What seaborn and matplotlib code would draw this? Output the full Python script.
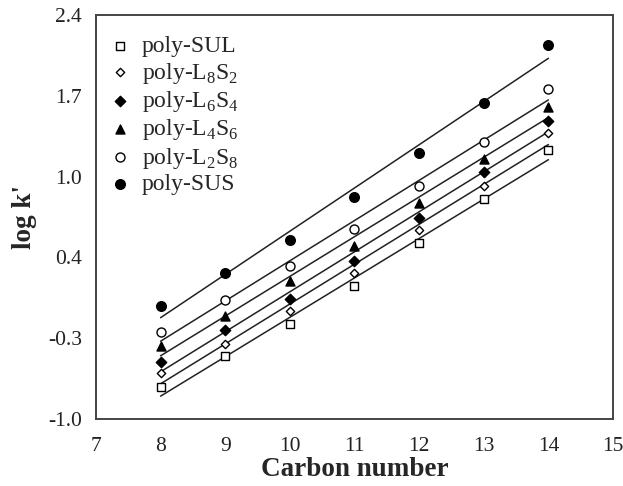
import numpy as np
import pandas as pd
import matplotlib
matplotlib.use("Agg")
import matplotlib.pyplot as plt
import seaborn as sns

# data
carbon = [8, 9, 10, 11, 12, 13, 14]
series_names = ["poly-SUL", "poly-L8S2", "poly-L6S4", "poly-L4S6", "poly-L2S8", "poly-SUS"]
legend_labels = [
    "poly-SUL",
    r"poly-L$_\mathregular{8}$S$_\mathregular{2}$",
    r"poly-L$_\mathregular{6}$S$_\mathregular{4}$",
    r"poly-L$_\mathregular{4}$S$_\mathregular{6}$",
    r"poly-L$_\mathregular{2}$S$_\mathregular{8}$",
    "poly-SUS",
]
sul = [-0.73, -0.47, -0.20, 0.12, 0.48, 0.85, 1.26]
l8s2 = [-0.61, -0.37, -0.09, 0.23, 0.59, 0.96, 1.41]
l6s4 = [-0.52, -0.25, 0.01, 0.33, 0.69, 1.08, 1.51]
l4s6 = [-0.39, -0.13, 0.16, 0.46, 0.82, 1.19, 1.63]
l2s8 = [-0.27, 0.00, 0.29, 0.60, 0.96, 1.33, 1.78]
sus = [-0.05, 0.23, 0.51, 0.87, 1.24, 1.66, 2.15]
values = [sul, l8s2, l6s4, l4s6, l2s8, sus]

y_ticks = np.linspace(-1.0, 2.4, 6)
x_ticks = list(range(7, 16))

# marker styles: (marker, size, facecolor)
styles = [
    ("s", 38, "white"),
    ("D", 18, "white"),
    ("D", 28, "black"),
    ("^", 42, "black"),
    ("o", 42, "white"),
    ("o", 48, "black"),
]

sns.set_style("white")
plt.rcParams["font.family"] = ["Liberation Serif", "DejaVu Serif"]
plt.rcParams["mathtext.fontset"] = "custom"
plt.rcParams["mathtext.rm"] = "Liberation Serif"

fig, ax = plt.subplots(figsize=(6.23, 4.86), dpi=100)
fig.subplots_adjust(left=0.154, right=0.984, top=0.969, bottom=0.138)

for name, label, vals, (mk, size, fc) in zip(series_names, legend_labels, values, styles):
    df = pd.DataFrame({"carbon": carbon, "logk": vals})
    sns.regplot(data=df, x="carbon", y="logk", scatter=False, ci=None, ax=ax,
                line_kws={"color": "#222222", "linewidth": 1.1})
    sns.scatterplot(data=df, x="carbon", y="logk", marker=mk, s=size,
                    facecolor=fc, edgecolor="black", linewidth=1.0,
                    label=label, ax=ax, zorder=3)

ax.set_xlim(7, 15)
ax.set_ylim(-1.0, 2.4)
ax.set_xticks(x_ticks)
ax.set_yticks(y_ticks)
ax.set_yticklabels([f"{v:.1f}" for v in y_ticks])
ax.tick_params(length=0, labelsize=15.5, colors="#222222")
ax.tick_params(axis="x", pad=13)
ax.tick_params(axis="y", pad=10)

ax.set_xlabel("Carbon number", fontsize=19.5, fontweight="bold", labelpad=1)
ax.set_ylabel("log k'", fontsize=19.5, fontweight="bold", labelpad=8)

for sp in ax.spines.values():
    sp.set_color("#444444")
    sp.set_linewidth(1.4)

ax.legend(loc="upper left", frameon=False, fontsize=17, handlelength=1.0,
          handletextpad=0.45, labelspacing=0.14, borderaxespad=0.1,
          bbox_to_anchor=(0.0, 0.978))

fig.savefig("out.png", dpi=100)
